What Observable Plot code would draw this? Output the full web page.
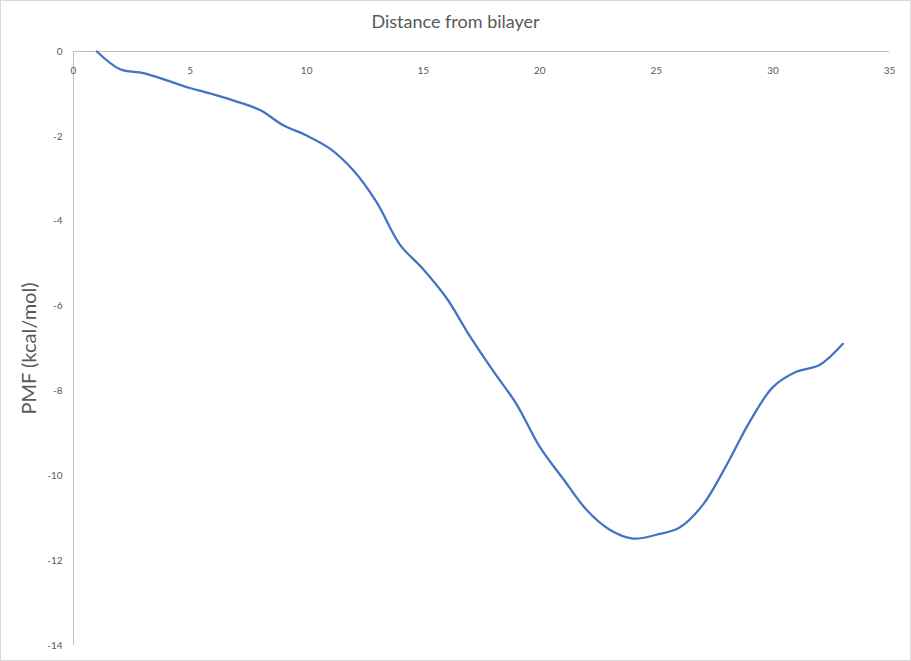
<!DOCTYPE html>
<html>
<head>
<meta charset="utf-8">
<script src="https://cdn.jsdelivr.net/npm/d3@7"></script>
<script src="https://cdn.jsdelivr.net/npm/@observablehq/plot@0.6"></script>
<style>
  html, body { margin: 0; padding: 0; background: #fff; }
  #wrap { position: relative; width: 911px; height: 661px; overflow: hidden; font-family: Lato, "Open Sans", sans-serif; }
  #border { position: absolute; left: 0; top: 0; width: 909px; height: 659px; border: 1px solid #d9d9d9; pointer-events: none; }
  #title { position: absolute; left: 0; width: 911px; top: 10px; text-align: center; font-size: 18px; color: #595959; }
</style>
</head>
<body>
<div id="wrap">
  <div id="chart"></div>
  <div id="title">Distance from bilayer</div>
  <div id="border"></div>
</div>
<script>
const distance = [1, 2, 3, 4, 5, 6, 7, 8, 9, 10, 11, 12, 13, 14, 15, 16, 17, 18, 19, 20, 21, 22, 23, 24, 25, 26, 27, 28, 29, 30, 31, 32, 33];
const pmf = [0.0, -0.42, -0.51, -0.68, -0.86, -1.01, -1.18, -1.38, -1.74, -1.98, -2.29, -2.80, -3.55, -4.55, -5.13, -5.81, -6.71, -7.53, -8.31, -9.32, -10.07, -10.80, -11.27, -11.48, -11.39, -11.22, -10.68, -9.76, -8.73, -7.91, -7.55, -7.39, -6.89];
const xTicks = [0, 5, 10, 15, 20, 25, 30, 35];
const yTicks = [0, -2, -4, -6, -8, -10, -12, -14];

const data = distance.map((d, i) => ({x: d, y: pmf[i]}));

const chart = Plot.plot({
  width: 911,
  height: 661,
  marginLeft: 73,
  marginTop: 51,
  marginRight: 22,
  marginBottom: 16,
  style: {fontFamily: "Lato, 'Open Sans', sans-serif", background: "transparent"},
  x: {domain: [0, 35]},
  y: {domain: [-14, 0]},
  marks: [
    Plot.ruleY([0], {stroke: "#bfbfbf", strokeWidth: 1}),
    Plot.ruleX([0], {stroke: "#bfbfbf", strokeWidth: 1}),
    Plot.axisX({anchor: "top", ticks: xTicks, tickSize: 0, tickPadding: 0, dy: 22, fontSize: 10, fill: "#595959", tickFormat: d => String(d), label: null}),
    Plot.axisY({anchor: "left", ticks: yTicks, tickSize: 0, tickPadding: 11, fontSize: 10, fill: "#595959", tickFormat: d => String(d),
      label: "PMF (kcal/mol)", labelAnchor: "center", labelArrow: "none", labelOffset: 52}),
    Plot.line(data, {x: "x", y: "y", curve: "catmull-rom", stroke: "#4472C4", strokeWidth: 2.25})
  ]
});
// enlarge the y axis label font
chart.querySelectorAll("g[aria-label='y-axis label'] text, g[aria-label='y-axis label']").forEach(el => {
  el.setAttribute("font-size", "20");
  el.style.fontSize = "20px";
  el.setAttribute("fill", "#595959");
});
document.getElementById("chart").appendChild(chart);
</script>
</body>
</html>
